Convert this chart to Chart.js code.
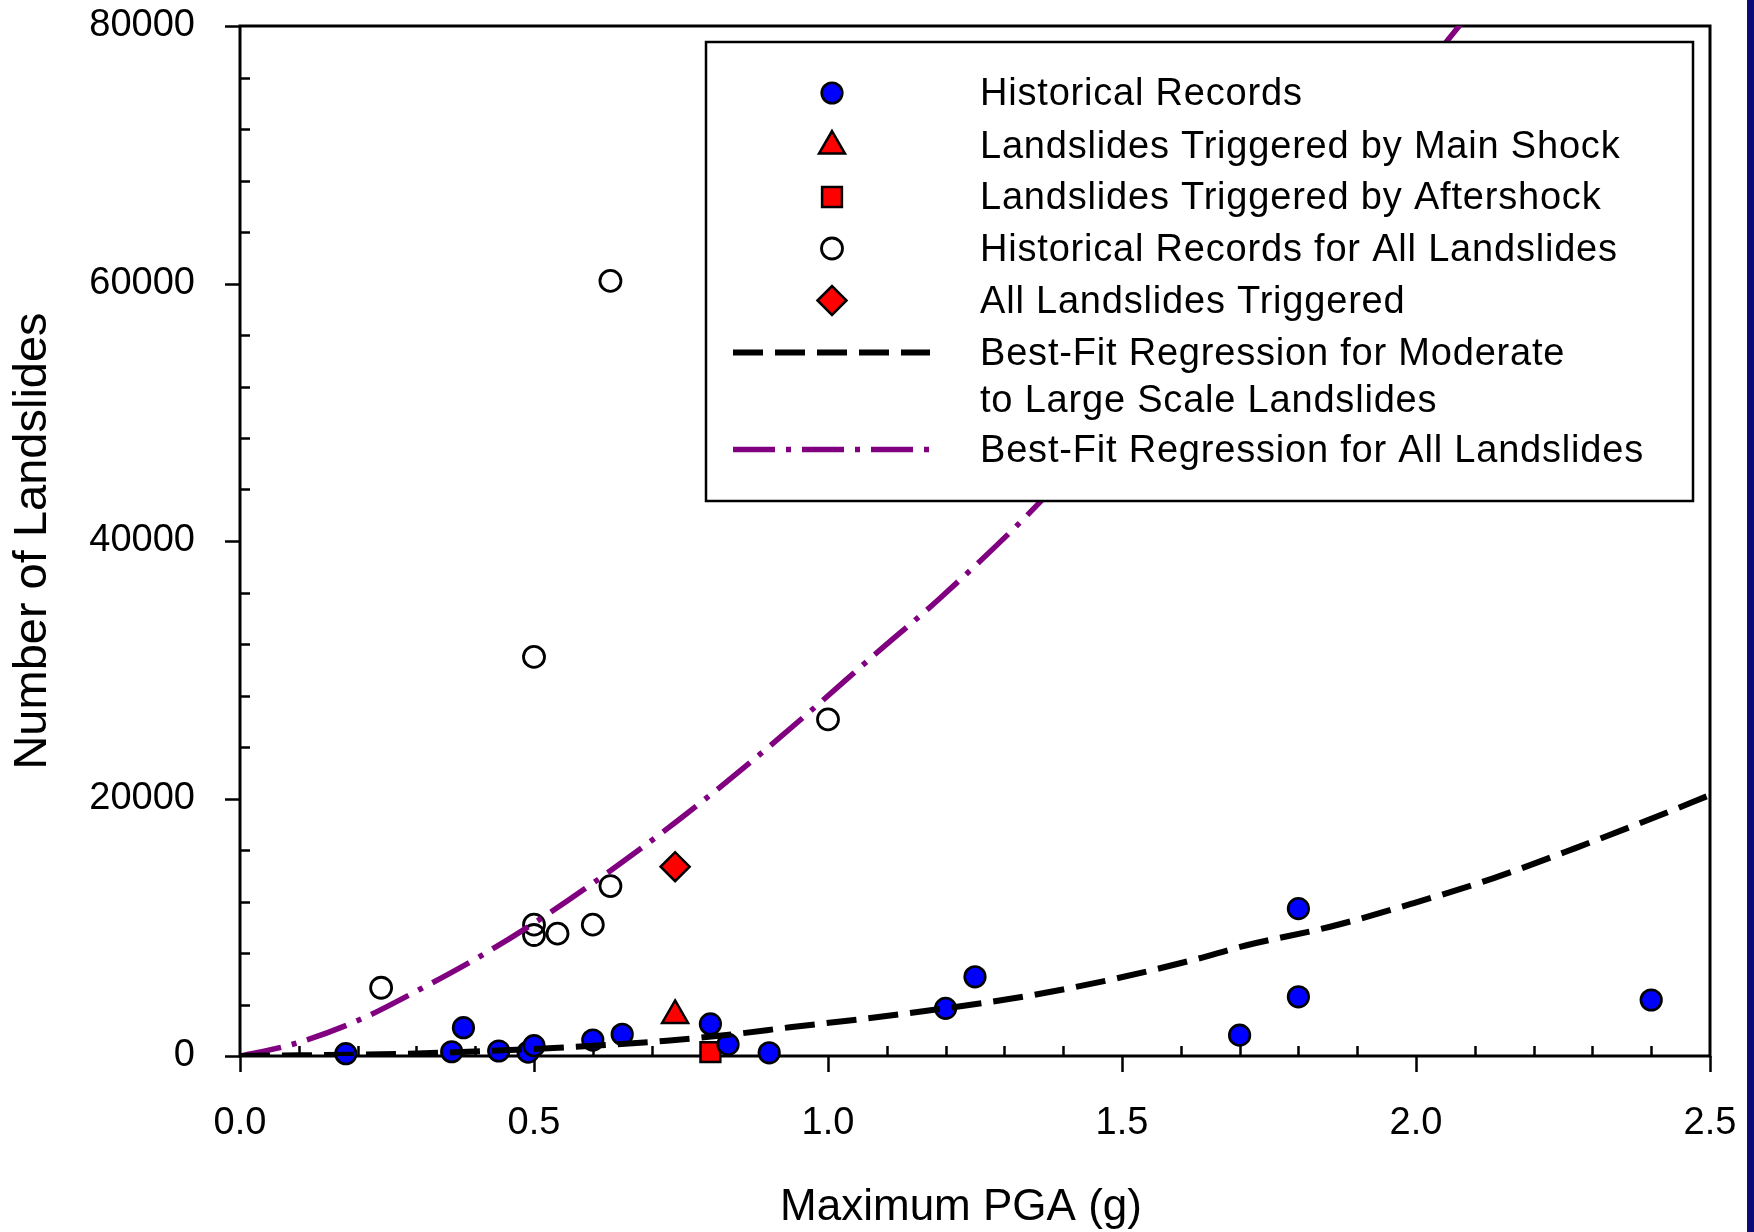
<!DOCTYPE html>
<html>
<head>
<meta charset="utf-8">
<title>Number of Landslides vs Maximum PGA</title>
<script src="https://cdn.jsdelivr.net/npm/chart.js@4.4.1/dist/chart.umd.min.js"></script>
<style>
  html, body { margin: 0; padding: 0; background: #fff; overflow: hidden; }
  #wrap { position: relative; width: 1754px; height: 1232px; }
  canvas { display: block; }
</style>
</head>
<body>
<div id="wrap"><canvas id="c" width="1754" height="1232"></canvas></div>
<script>
// ---- Data ---------------------------------------------------------------
// Historical records (moderate to large scale landslides)
const histPGA   = [0.18, 0.36, 0.38, 0.44, 0.49, 0.50, 0.60, 0.65, 0.80, 0.83, 0.90, 1.20, 1.25, 1.70, 1.80, 1.80, 2.40];
const histCount = [180, 330, 2200, 390, 300, 800, 1240, 1690, 2490, 900, 250, 3700, 6150, 1620, 4600, 11450, 4350];

// Landslides triggered by the main shock / by the aftershock
const mainShockPGA   = [0.74];
const mainShockCount = [3150];
const aftershockPGA   = [0.80];
const aftershockCount = [300];

// Historical records for all landslides
const allPGA   = [0.24, 0.50, 0.50, 0.50, 0.54, 0.60, 0.63, 0.63, 1.00];
const allCount = [5300, 31000, 10200, 9400, 9500, 10200, 13200, 60200, 26150];

// All landslides triggered
const allTrigPGA   = [0.74];
const allTrigCount = [14700];

// Best-fit regression, moderate to large scale landslides
const fitModPGA   = [0, 0.30, 0.533, 0.726, 0.839, 0.935, 1.066, 1.199, 1.349, 1.491, 1.621, 1.712, 1.854, 1.995, 2.131, 2.270, 2.415, 2.50];
const fitModCount = [0, 200, 620, 1190, 1690, 2230, 2920, 3700, 4740, 6030, 7460, 8600, 10040, 11860, 13800, 16130, 18700, 20270];

// Best-fit regression, all landslides
const fitAllPGA   = [0, 0.085, 0.196, 0.306, 0.417, 0.527, 0.638, 0.748, 0.859, 0.969, 1.080, 1.189, 1.36, 1.50, 1.70, 1.90, 2.10];
const fitAllCount = [0, 855, 2665, 5180, 7975, 11130, 14655, 18410, 22470, 26740, 31200, 35500, 43000, 50200, 60000, 70300, 81500];

// Axis ticks and titles
const xTickValues = [0, 0.5, 1.0, 1.5, 2.0, 2.5];
const yTickValues = [0, 20000, 40000, 60000, 80000];
const xMinorStep = 0.1;
const yMinorStep = 4000;
const xTitle = 'Maximum PGA (g)';
const yTitle = 'Number of Landslides';

const pts = (xs, ys) => xs.map((v, i) => ({ x: v, y: ys[i] }));

// ---- Styles ---------------------------------------------------------------
const FONT = "'Liberation Sans', Arial, Helvetica, sans-serif";
Chart.defaults.font.family = FONT;
Chart.defaults.color = '#000';

const markerBase = { showLine: false, clip: false, pointBorderColor: '#000', pointHoverRadius: 0 };

const dsHist = Object.assign({}, markerBase, {
  label: 'Historical Records', data: pts(histPGA, histCount),
  pointStyle: 'circle', pointRadius: 10.3, pointBorderWidth: 2.6,
  pointBackgroundColor: '#0000ff', order: 2
});
const dsMain = Object.assign({}, markerBase, {
  label: 'Landslides Triggered by Main Shock', data: pts(mainShockPGA, mainShockCount),
  pointStyle: 'triangle', pointRadius: 15, pointBorderWidth: 2.5,
  pointBackgroundColor: '#ff0000', order: 1
});
const dsAfter = Object.assign({}, markerBase, {
  label: 'Landslides Triggered by Aftershock', data: pts(aftershockPGA, aftershockCount),
  pointStyle: 'rect', pointRadius: 14, pointBorderWidth: 2.5,
  pointBackgroundColor: '#ff0000', order: 3
});
const dsAll = Object.assign({}, markerBase, {
  label: 'Historical Records for All Landslides', data: pts(allPGA, allCount),
  pointStyle: 'circle', pointRadius: 10.5, pointBorderWidth: 2.8,
  pointBackgroundColor: 'rgba(0,0,0,0)', order: 1
});
const dsAllTrig = Object.assign({}, markerBase, {
  label: 'All Landslides Triggered', data: pts(allTrigPGA, allTrigCount),
  pointStyle: 'rectRot', pointRadius: 14.5, pointBorderWidth: 2.5,
  pointBackgroundColor: '#ff0000', order: 1
});
const dsFitMod = {
  type: 'line', label: ['Best-Fit Regression for Moderate', 'to Large Scale Landslides'],
  data: pts(fitModPGA, fitModCount),
  borderColor: '#000', borderWidth: 6, borderDash: [30, 12], borderCapStyle: 'butt',
  pointRadius: 0, fill: false, cubicInterpolationMode: 'monotone', order: 0, clip: 0
};
const dsFitAll = {
  type: 'line', label: 'Best-Fit Regression for All Landslides',
  data: pts(fitAllPGA, fitAllCount),
  borderColor: '#800080', borderWidth: 5.5, borderDash: [42, 11, 5, 11], borderCapStyle: 'butt',
  pointRadius: 0, fill: false, cubicInterpolationMode: 'monotone', order: 0, clip: 0
};

// ---- Plugins --------------------------------------------------------------
// Plot frame with outward major ticks and inward minor ticks
const frameTicks = {
  id: 'frameTicks',
  beforeDatasetsDraw(chart) {
    const { ctx, chartArea: a, scales: { x, y } } = chart;
    ctx.save();
    ctx.strokeStyle = '#000';
    ctx.lineCap = 'butt';
    ctx.lineWidth = 2.5;
    ctx.beginPath();
    for (let v = 0; v <= x.max + 1e-9; v += xMinorStep) {
      const isMajor = xTickValues.some(t => Math.abs(t - v) < 1e-6);
      const p = Math.round(x.getPixelForValue(v)) + 0.5;
      if (isMajor) { ctx.moveTo(p, a.bottom); ctx.lineTo(p, a.bottom + 16); }
      else { ctx.moveTo(p, a.bottom); ctx.lineTo(p, a.bottom - 10); }
    }
    for (let v = 0; v <= y.max + 1e-6; v += yMinorStep) {
      const isMajor = yTickValues.some(t => Math.abs(t - v) < 1e-3);
      const p = Math.round(y.getPixelForValue(v)) + 0.5;
      if (isMajor) { ctx.moveTo(a.left, p); ctx.lineTo(a.left - 15, p); }
      else { ctx.moveTo(a.left, p); ctx.lineTo(a.left + 10, p); }
    }
    ctx.stroke();
    ctx.lineWidth = 3;
    ctx.strokeRect(a.left, a.top, a.right - a.left, a.bottom - a.top);
    ctx.restore();
  }
};

// X-axis title, set slightly left of the plot centre
const xAxisTitle = {
  id: 'xAxisTitle',
  afterDraw(chart) {
    const ctx = chart.ctx;
    ctx.save();
    ctx.font = '44px ' + FONT;
    ctx.fillStyle = '#000';
    ctx.textAlign = 'center';
    ctx.textBaseline = 'middle';
    ctx.fillText(xTitle, 961, 1208);
    ctx.restore();
  }
};

function drawMarker(ctx, ds, cx, cy) {
  const r = ds.pointRadius;
  ctx.save();
  ctx.fillStyle = ds.pointBackgroundColor;
  ctx.strokeStyle = ds.pointBorderColor;
  ctx.lineWidth = ds.pointBorderWidth;
  ctx.beginPath();
  if (ds.pointStyle === 'circle') {
    ctx.arc(cx, cy, r, 0, Math.PI * 2);
  } else if (ds.pointStyle === 'triangle') {
    ctx.moveTo(cx, cy - r);
    ctx.lineTo(cx + r * Math.sin(Math.PI / 3), cy + r / 2);
    ctx.lineTo(cx - r * Math.sin(Math.PI / 3), cy + r / 2);
    ctx.closePath();
  } else if (ds.pointStyle === 'rect') {
    const s = Math.SQRT1_2 * r;
    ctx.rect(cx - s, cy - s, 2 * s, 2 * s);
  } else if (ds.pointStyle === 'rectRot') {
    ctx.moveTo(cx - r, cy); ctx.lineTo(cx, cy - r);
    ctx.lineTo(cx + r, cy); ctx.lineTo(cx, cy + r);
    ctx.closePath();
  }
  ctx.fill();
  ctx.stroke();
  ctx.restore();
}

// Boxed legend inside the plot, drawn over the curves
const boxLegend = {
  id: 'boxLegend',
  afterDatasetsDraw(chart) {
    const ctx = chart.ctx;
    const box = { l: 706, t: 42, r: 1693, b: 501 };
    const symX = 832, lineX0 = 733, lineX1 = 930, textX = 980, textDy = 2;
    const rowY = [93, 146, 197, 248.5, 300.5, 352.5, 449.5];
    const lineGap = 47.5;
    ctx.save();
    ctx.fillStyle = '#fff';
    ctx.fillRect(box.l, box.t, box.r - box.l, box.b - box.t);
    ctx.strokeStyle = '#000';
    ctx.lineWidth = 2.5;
    ctx.strokeRect(box.l, box.t, box.r - box.l, box.b - box.t);

    const entries = [dsHist, dsMain, dsAfter, dsAll, dsAllTrig, dsFitMod, dsFitAll];
    ctx.font = '38px ' + FONT;
    ctx.textBaseline = 'middle';
    ctx.textAlign = 'left';
    if ('letterSpacing' in ctx) ctx.letterSpacing = '0.8px';
    entries.forEach((ds, i) => {
      const cy = rowY[i];
      if (ds.type === 'line') {
        ctx.save();
        ctx.strokeStyle = ds.borderColor;
        ctx.lineWidth = ds.borderWidth;
        ctx.setLineDash(ds.borderDash);
        ctx.lineCap = 'butt';
        ctx.beginPath();
        ctx.moveTo(lineX0, cy); ctx.lineTo(lineX1, cy);
        ctx.stroke();
        ctx.restore();
      } else {
        drawMarker(ctx, ds, symX, cy);
      }
      const lines = Array.isArray(ds.label) ? ds.label : [ds.label];
      ctx.fillStyle = '#000';
      lines.forEach((t, k) => ctx.fillText(t, textX, cy + textDy + k * lineGap));
    });
    ctx.restore();
  }
};

// Dark edge strip along the right border
const edgeStrip = {
  id: 'edgeStrip',
  afterDraw(chart) {
    const ctx = chart.ctx;
    ctx.save();
    ctx.fillStyle = '#0c0c78';
    ctx.fillRect(1747, 0, 7, chart.height);
    ctx.restore();
  }
};

// ---- Chart ----------------------------------------------------------------
new Chart(document.getElementById('c'), {
  type: 'scatter',
  data: { datasets: [dsFitMod, dsFitAll, dsHist, dsMain, dsAfter, dsAll, dsAllTrig] },
  options: {
    responsive: false,
    animation: false,
    events: [],
    layout: { padding: { left: 0, top: 26, right: 44, bottom: 0 } },
    plugins: { legend: { display: false }, tooltip: { enabled: false } },
    scales: {
      x: {
        type: 'linear', min: 0, max: 2.5,
        afterFit(s) { s.height = 176; s.paddingLeft = 0; s.paddingRight = 0; },
        afterBuildTicks(s) { s.ticks = xTickValues.map(v => ({ value: v })); },
        grid: { display: false },
        border: { display: false },
        ticks: {
          padding: 37,
          font: { size: 38, lineHeight: 1.2 },
          color: '#000',
          maxRotation: 0,
          callback: v => Number(v).toFixed(1)
        },
        title: { display: false, text: xTitle }
      },
      y: {
        type: 'linear', min: 0, max: 80000,
        afterFit(s) { s.width = 240; s.paddingTop = 0; s.paddingBottom = 0; },
        afterBuildTicks(s) { s.ticks = yTickValues.map(v => ({ value: v })); },
        grid: { display: false },
        border: { display: false },
        ticks: {
          padding: 37,
          font: { size: 38, lineHeight: 1.2 },
          color: '#000',
          callback: v => String(v)
        },
        title: {
          display: true, text: yTitle, color: '#000',
          font: { size: 47, lineHeight: 1 }, padding: { top: 10, bottom: 0 }
        }
      }
    }
  },
  plugins: [frameTicks, boxLegend, edgeStrip, xAxisTitle]
});
</script>
</body>
</html>
